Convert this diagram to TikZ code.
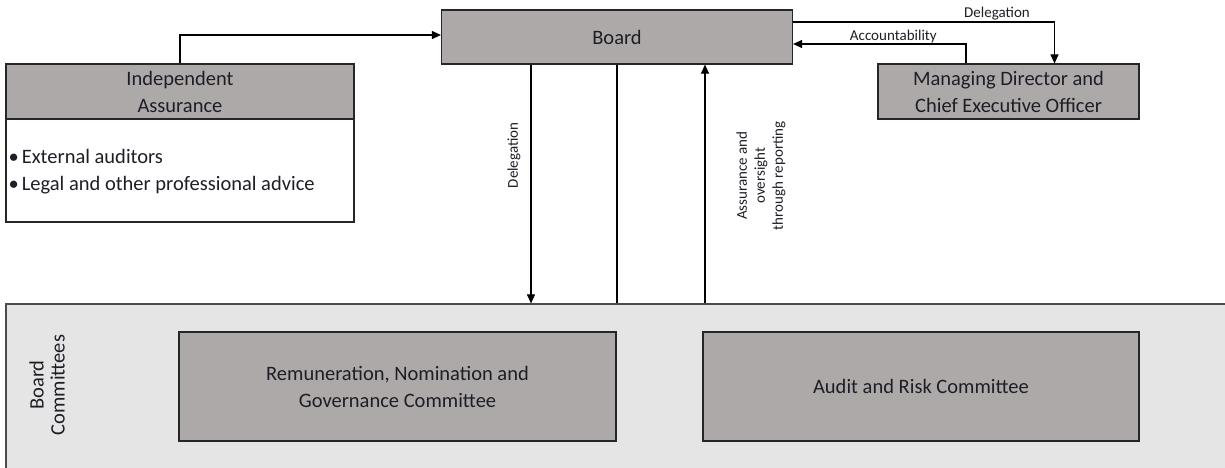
\documentclass[tikz,border=0pt]{standalone}
\usepackage{fontspec}
\setmainfont{Carlito}
\usetikzlibrary{arrows.meta}
\definecolor{boxgray}{HTML}{ADA9A8}
\definecolor{panelgray}{HTML}{E5E5E5}
\definecolor{txt}{HTML}{1E1E26}

\begin{document}
\begin{tikzpicture}[x=1pt, y=-1pt,
    box/.style={rectangle, draw=black!85, line width=1.2pt, fill=boxgray, inner sep=0pt, align=center, font=\fontsize{20.5}{27}\selectfont, text=txt},
    tag/.style={inner sep=0pt, align=center, font=\fontsize{20.5}{21}\selectfont, text=txt},
    lbl/.style={inner sep=1pt, align=center, font=\fontsize{15}{18}\selectfont, text=txt},
    arrow/.style={-{Triangle[length=9pt,width=8pt]}, line width=1.1pt},
    link/.style={line width=1.1pt}
]
    \useasboundingbox (0,0) rectangle (1225,468);

    % Ausschuesse
    \node[box, fill=panelgray, draw=black!70, minimum width=1234pt, minimum height=176pt] (bc) at (623,392) {};
    \node[tag, rotate=90] (bclbl) at (47,385) {Board\\Committees};
    \node[box, minimum width=437pt, minimum height=109pt] (rng) at (397.5,386.5) {Remuneration, Nomination and\\Governance Committee};
    \node[box, minimum width=436pt, minimum height=109pt] (arc) at (921,386.5) {Audit and Risk Committee};

    % Knoten oben
    \node[box, minimum width=351pt, minimum height=54pt] (board) at (617,37) {Board};
    \node[box, minimum width=348pt, minimum height=55pt] (ia) at (180,91.5) {Independent\\Assurance};
    \node[box, fill=white, minimum width=348pt, minimum height=103pt] (iabody) at (180,170.5) {};
    \node[tag, align=left, anchor=west, font=\fontsize{20.5}{27}\selectfont] (iatext) at ([xshift=3pt,yshift=-1pt]iabody.west) {\textbullet\hspace{3pt}External auditors\\\textbullet\hspace{3pt}Legal and other professional advice};
    \node[box, minimum width=261pt, minimum height=55pt] (md) at (1008.5,91.5) {Managing Director and\\Chief Executive Officer};

    % Verbindungen
    \draw[arrow] (ia.north) |- ([yshift=2pt]board.west);
    \draw[arrow] ([yshift=15pt]board.east) -| node[lbl, above, pos=0.39] {Delegation} ([xshift=46pt]md.north);
    \draw[arrow] ([xshift=-42.5pt]md.north) |- node[lbl, above, pos=0.71] {Accountability} ([yshift=-7pt]board.east);
    \draw[arrow] ([xshift=-86pt]board.south) -- node[lbl, rotate=90, anchor=south, pos=0.38, inner ysep=10pt] {Delegation} ([xshift=-86pt]board.south |- bc.north);
    \draw[link] (board.south) -- (board.south |- bc.north);
    \draw[arrow] ([xshift=88pt]board.south |- bc.north) -- node[lbl, rotate=90, anchor=north, pos=0.535, inner ysep=31pt] {Assurance and\\oversight\\through reporting} ([xshift=88pt]board.south);
\end{tikzpicture}
\end{document}
